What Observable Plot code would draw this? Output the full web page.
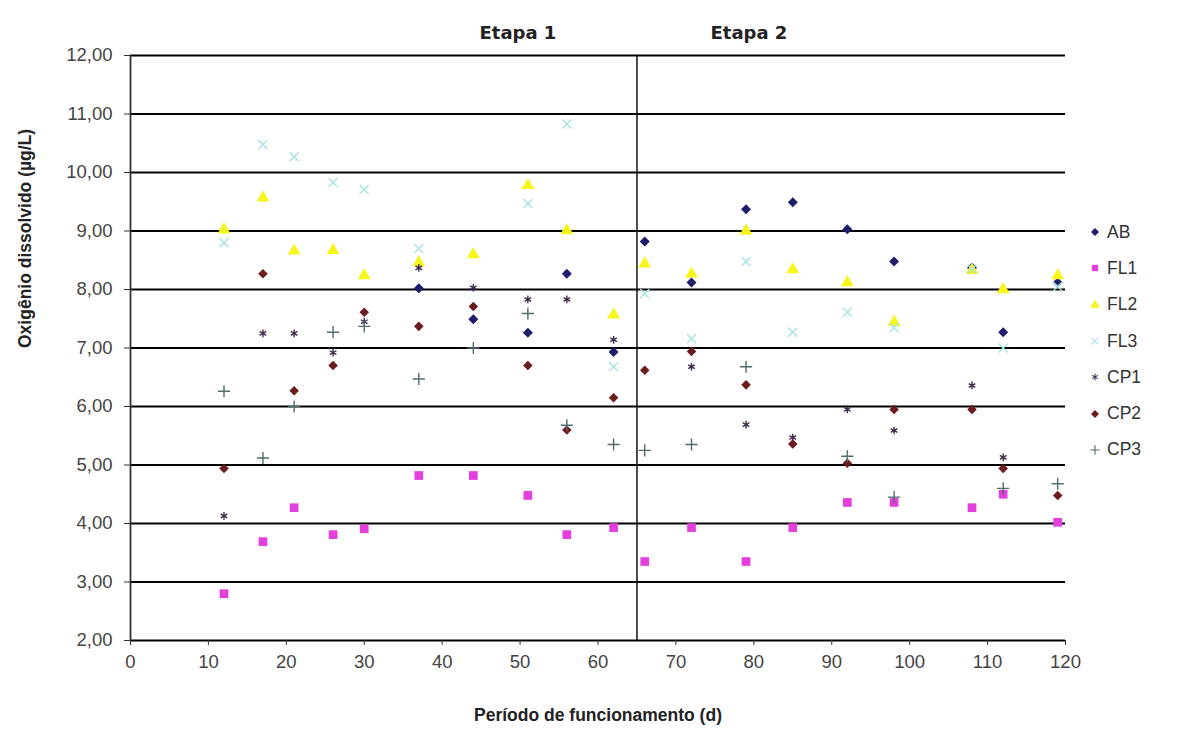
<!DOCTYPE html>
<html><head><meta charset="utf-8">
<script src="https://cdn.jsdelivr.net/npm/d3@7"></script>
<script src="https://cdn.jsdelivr.net/npm/@observablehq/plot@0.6"></script>
<style>
body{margin:0;background:#fff;font-family:"Liberation Sans",Arial,sans-serif;}
#wrap{position:relative;width:1191px;height:731px;overflow:hidden;}
#legend{position:absolute;left:1088px;top:214px;}
.item{display:flex;align-items:center;height:36.3px;font-size:17.5px;color:#333;}
.item svg{margin-right:5px;}
</style></head><body>
<div id="wrap"><div id="chart"></div><div id="legend"></div></div>
<script>
const days = [12,17,21,26,30,37,44,51,56,62,66,72,79,85,92,98,108,112,119];
const AB  = [null,null,null,null,null,8.02,7.49,7.26,8.27,6.93,8.82,8.12,9.37,9.49,9.03,8.48,8.37,7.27,8.12];
const FL1 = [2.80,3.69,4.27,3.81,3.91,4.82,4.82,4.48,3.81,3.93,3.35,3.93,3.35,3.93,4.36,4.36,4.27,4.50,4.02];
const FL2 = [9.02,9.57,8.66,8.67,8.24,8.46,8.60,9.78,9.01,7.57,8.44,8.27,9.00,8.34,8.12,7.44,8.33,8.00,8.24];
const FL3 = [8.80,10.48,10.27,9.83,9.71,8.70,null,9.47,10.83,6.68,7.93,7.16,8.48,7.27,7.61,7.35,8.35,7.00,8.05];
const CP1 = [4.13,7.25,7.25,6.92,7.45,8.37,8.03,7.83,7.83,7.14,null,6.68,5.69,5.47,5.95,5.59,6.36,5.13,null];
const CP2 = [4.94,8.27,6.27,6.70,7.61,7.37,7.71,6.70,5.60,6.15,6.62,6.94,6.37,5.36,5.03,5.95,5.95,4.94,4.48];
const CP3 = [6.26,5.12,6.00,7.27,7.37,6.47,7.00,7.59,5.68,5.35,5.25,5.35,6.68,null,5.15,4.45,null,4.60,4.68];

const seriesNames = ["AB","FL1","FL2","FL3","CP1","CP2","CP3"];
const seriesValues = [AB,FL1,FL2,FL3,CP1,CP2,CP3];
const seriesColors = ["#1e1d6c","#e43fdc","#f6f61c","#a8e2e2","#3e2c4c","#6c1b1e","#506c6c"];
const seriesSymbols = ["diamond2","square","triangle","times","asterisk","diamond2","plus"];
const seriesR = [4.5,4.9,4.8,4.2,3.6,4.3,4.0];
const strokeSymbols = new Set(["times","asterisk","plus"]);

const yTicks = [2,3,4,5,6,7,8,9,10,11,12];
const xTicks = [0,10,20,30,40,50,60,70,80,90,100,110,120];
const stageBoundary = 65;
const stageLabels = ["Etapa 1","Etapa 2"];
const xLabel = "Período de funcionamento (d)";
const yLabel = "Oxigênio dissolvido (µg/L)";

const fmt = d => d.toFixed(2).replace(".", ",");

const dotMarks = seriesNames.map((name, i) => {
  const data = days.map((d, j) => ({day: d, v: seriesValues[i][j]})).filter(p => p.v != null);
  const sym = seriesSymbols[i];
  const isStroke = strokeSymbols.has(sym);
  return Plot.dot(data, {
    x: "day", y: "v", symbol: sym, r: seriesR[i],
    fill: isStroke ? "none" : seriesColors[i],
    stroke: isStroke ? seriesColors[i] : "none",
    strokeWidth: isStroke ? 1.4 : 0
  });
});

const chart = Plot.plot({
  width: 1191, height: 731,
  marginLeft: 130, marginRight: 126, marginTop: 55, marginBottom: 91,
  style: {fontFamily: '"Liberation Sans", Arial, sans-serif', background: "#fff", color: "#333"},
  x: {domain: [0, 120]},
  y: {domain: [2, 12]},
  marks: [
    Plot.ruleY(yTicks, {stroke: "#000", strokeWidth: 1.8}),
    Plot.ruleX([0], {stroke: "#333", strokeWidth: 1.8}),
    Plot.ruleX([stageBoundary], {stroke: "#111", strokeWidth: 1.5}),
    Plot.axisY(yTicks, {tickFormat: fmt, tickSize: 6, tickPadding: 12, fontSize: 18.5, stroke: "#333", fill: "#444", label: null}),
    Plot.axisX(xTicks, {tickFormat: d => String(d), tickSize: 5, tickPadding: 9, fontSize: 18.5, stroke: "#333", fill: "#444", label: null}),
    ...dotMarks,
    Plot.text([{x: stageBoundary, t: stageLabels[0]}], {x: "x", text: "t", frameAnchor: "top", dx: -119, dy: -29, fontSize: 18, fontWeight: "bold", fontFamily: '"DejaVu Sans", sans-serif', fill: "#222"}),
    Plot.text([{x: stageBoundary, t: stageLabels[1]}], {x: "x", text: "t", frameAnchor: "top", dx: 112, dy: -29, fontSize: 18, fontWeight: "bold", fontFamily: '"DejaVu Sans", sans-serif', fill: "#222"}),
    Plot.text([xLabel], {frameAnchor: "bottom", dy: 80, fontSize: 17.5, fontWeight: "bold", fill: "#222"}),
    Plot.text([yLabel], {frameAnchor: "left", rotate: -90, dx: -105, fontSize: 17.5, fontWeight: "bold", fill: "#222"})
  ]
});
document.getElementById("chart").appendChild(chart);

const legend = document.getElementById("legend");
seriesNames.forEach((name, i) => {
  const item = document.createElement("div");
  item.className = "item";
  const sym = seriesSymbols[i];
  const isStroke = strokeSymbols.has(sym);
  const d3sym = {diamond2: d3.symbolDiamond2, square: d3.symbolSquare, triangle: d3.symbolTriangle,
                 times: d3.symbolTimes, asterisk: d3.symbolAsterisk, plus: d3.symbolPlus}[sym];
  const svg = d3.create("svg").attr("width", 14).attr("height", 14);
  svg.append("path").attr("transform", "translate(7,7)")
    .attr("d", d3.symbol(d3sym, isStroke ? 30 : 40)())
    .attr("fill", isStroke ? "none" : seriesColors[i])
    .attr("stroke", isStroke ? seriesColors[i] : "none")
    .attr("stroke-width", 1.1);
  item.appendChild(svg.node());
  const t = document.createElement("span");
  t.textContent = name;
  item.appendChild(t);
  legend.appendChild(item);
});
</script>
</body></html>
